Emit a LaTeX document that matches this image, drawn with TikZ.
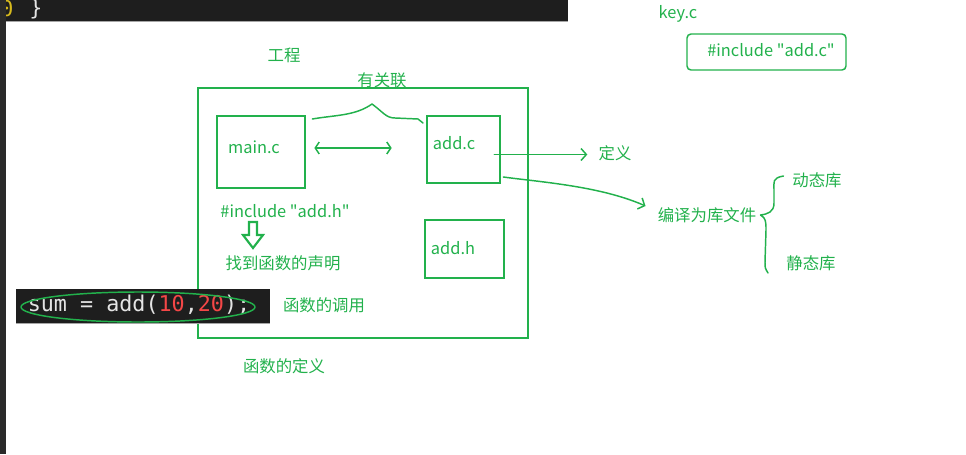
\documentclass[tikz,border=0pt]{standalone}
\usepackage{fontspec}
\newfontfamily\cjk{Noto Sans CJK SC}
\newfontfamily\codefont{DejaVu Sans Mono}
\usetikzlibrary{arrows.meta}
\definecolor{pen}{HTML}{22B14C}
\definecolor{editor}{HTML}{1E1E1E}
\definecolor{sidebar}{HTML}{2A2A2A}
\definecolor{codewhite}{HTML}{E4E4E4}
\definecolor{codered}{HTML}{F44747}
\definecolor{codeyellow}{HTML}{D7BA1D}
\newcommand\dq{\symbol{34}}

\begin{document}
\begin{tikzpicture}[x=0.75pt,y=-0.75pt,
  every node/.style={text=pen,font=\cjk\fontsize{12.3}{14}\selectfont,inner sep=0pt},
  filebox/.style={draw=pen,line width=2pt},
  ink/.style={draw=pen,line width=1.1pt,line cap=round,line join=round},
  tip/.style={-{Straight Barb[length=4pt,width=9pt]}},
  codetext/.style={text=codewhite,font=\codefont\fontsize{16.3}{18}\selectfont}]

\useasboundingbox (0,0) rectangle (966,454);

% Editor pieces
\fill[editor] (0,0) rectangle (568,21);
\node[codetext,text=codeyellow] (paren) at (7,9) {0};
\fill[sidebar] (0,0) rectangle (6,454);
\draw[gray!70] (6,21) -- (568,21);
\node[codetext] (brace) at (36,9) {\}};

% Project frame and files
\node[filebox,minimum width=247.5pt,minimum height=187.5pt] (proj) at (363,213) {};
\node[filebox,minimum width=66pt,minimum height=54pt] (main) at (261,152) {};
\node[filebox,minimum width=54.75pt,minimum height=50.25pt] (addc) at (463.5,149.5) {};
\node[filebox,minimum width=59.25pt,minimum height=43.5pt] (addh) at (464.5,249) {};

\node (maintxt) at (254,147) {main.c};
\node (addctxt) at (454,143) {add.c};
\node (addhtxt) at (453,248) {add.h};
\node (gc) at (284,55) {工程};
\node (rel) at (382,80) {有关联};

% link between main.c and add.c
\draw[ink] ([shift={(6,-33)}]main.east) .. controls (335,115) and (355,116) .. (372,104)
  .. controls (383,112) and (386,118) .. (395,118) -- (418,119) -- (423,123);
\draw[ink,{Straight Barb[length=3pt,width=9pt]}-{Straight Barb[length=3pt,width=9pt]}]
  ([shift={(8,-4)}]main.east) -- ([shift={(-34,-1.5)}]addc.west);

% include and declaration
\node (inch) at (285,211) {\#include \dq add.h\dq};
\node (decl) at (283,263) {找到函数的声明};
\draw[pen,line width=1.6pt,line join=miter]
  (249,222) -- (257,222) -- (257,235) -- (263,235) -- (253,248) -- (243,235) -- (249,235) -- cycle;

% code line
\fill[editor] (16,289) rectangle (270,323);
\draw[gray!70] (16,323) -- (270,323);
\node[codetext] (code) at (139,305)
  {sum = add(\textcolor{codered}{10},\textcolor{codered}{20});};
\draw[ink] (138,307) ellipse [x radius=117, y radius=15];
\node (call) at (324,305) {函数的调用};
\node (defn) at (284,366) {函数的定义};

% add.c outputs
\node (def) at (615,153) {定义};
\draw[ink,tip] ([shift={(-7,5)}]addc.east) -- +(93,0);
\node (lib) at (707,215) {编译为库文件};
\draw[ink,tip] ([shift={(2,27.5)}]addc.east) .. controls (540,182) and (600,186) .. ([shift={(-12,-9)}]lib.west);
\draw[ink] ([shift={(27,-39)}]lib.east) .. controls (772,178) and (774,182) .. (774,190)
  -- (774,203) .. controls (774,212) and (768,214) .. ([xshift=3pt]lib.east)
  .. controls (766,218) and (766,222) .. (766,230) -- (765,262) .. controls (765,268) .. (768,273);
\node (dyn) at (817,180) {动态库};
\node (sta) at (811,263) {静态库};

% key.c
\node (key) at (678,14) {key.c};
\draw[ink,rounded corners=3pt] (687,34) rectangle (846,70);
\node (incc) at (771,50) {\#include \dq add.c\dq};

\end{tikzpicture}
\end{document}
